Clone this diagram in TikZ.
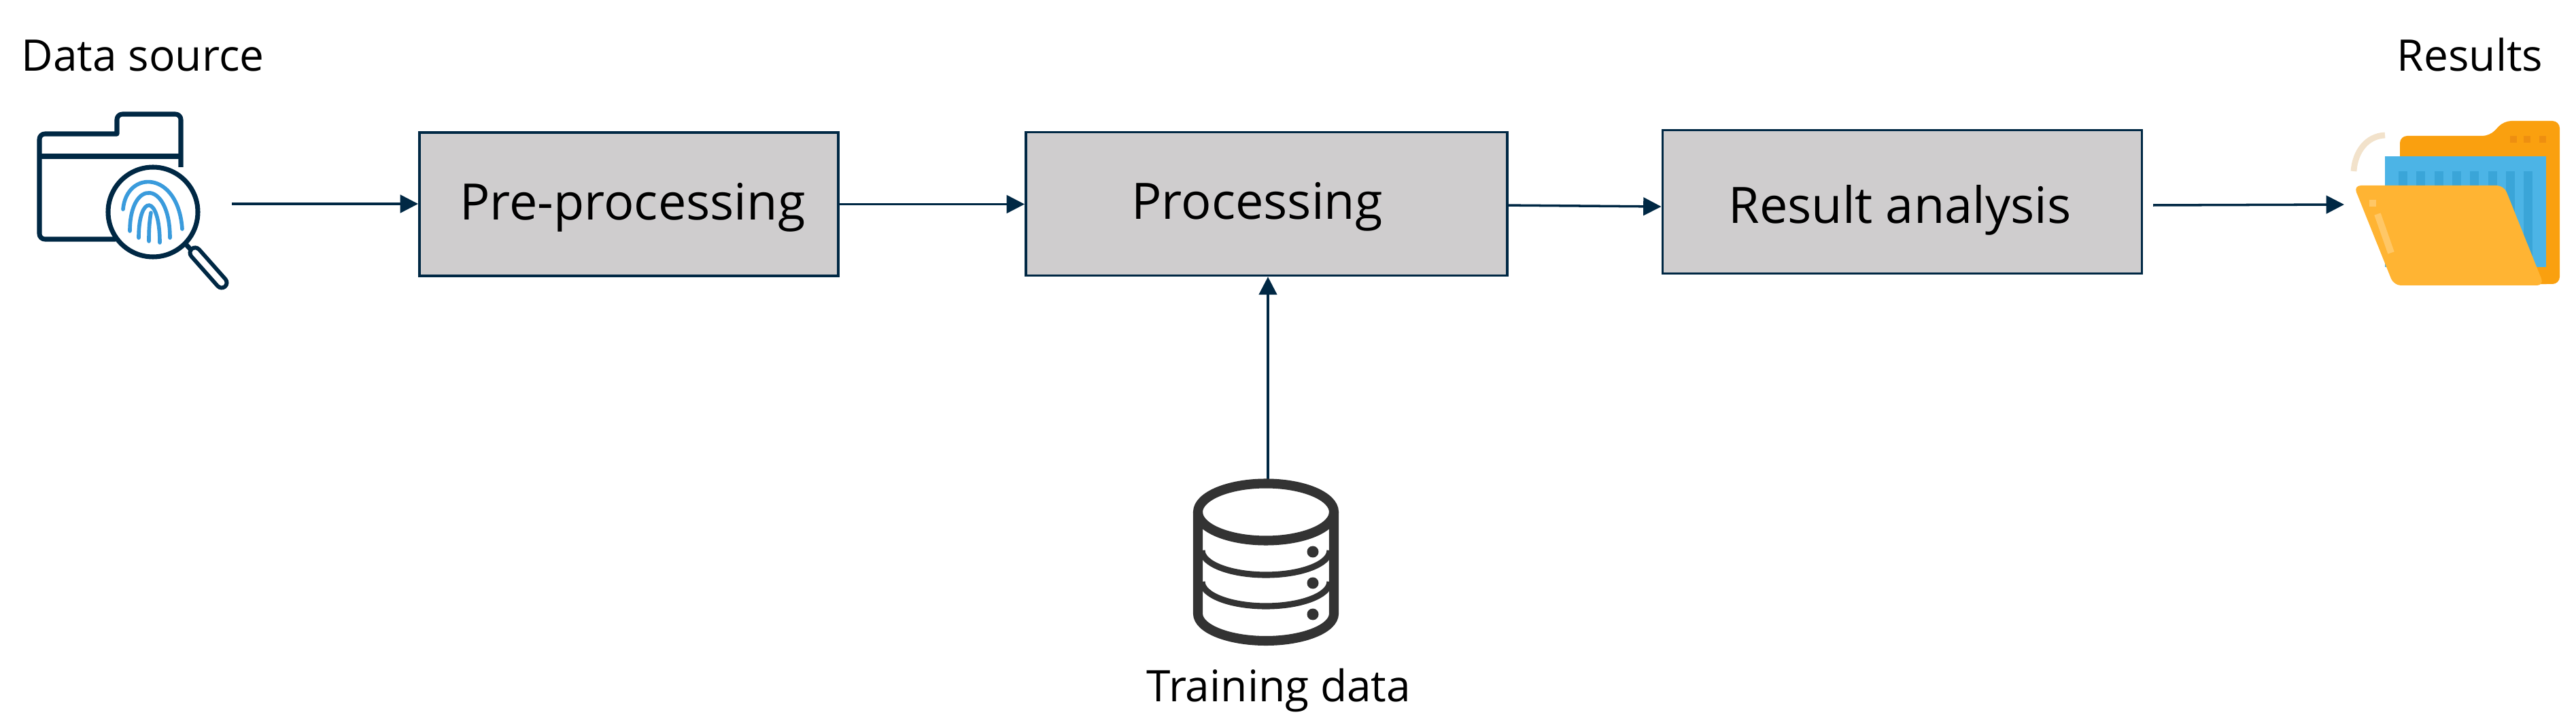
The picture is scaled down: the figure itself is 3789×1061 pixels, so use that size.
\documentclass[tikz,border=0pt]{standalone}
\usepackage{fontspec}
\setmainfont{Open Sans}
\usepackage{xcolor}
\usetikzlibrary{arrows.meta,positioning,calc}
\definecolor{linenavy}{RGB}{0, 40, 68}
\definecolor{boxgrey}{RGB}{207, 205, 206}
\definecolor{printblue}{RGB}{58, 155, 220}
\definecolor{dbgrey}{RGB}{51, 51, 51}
\definecolor{folderback}{RGB}{250, 160, 15}
\definecolor{folderfront}{RGB}{255, 180, 51}
\definecolor{folderlight}{RGB}{255, 199, 102}
\definecolor{folderdot}{RGB}{238, 143, 16}
\definecolor{sheetblue}{RGB}{76, 180, 230}
\definecolor{sheetdark}{RGB}{58, 165, 216}
\definecolor{arcbeige}{RGB}{242, 226, 203}
\tikzset{
    procbox/.style={draw=linenavy,fill=boxgrey,line width=1pt,minimum height=2.11cm,inner sep=0pt,font=\fontsize{21}{25}\selectfont},
    caption/.style={inner sep=0pt,font=\fontsize{18.2}{22}\selectfont},
    flowline/.style={draw=linenavy,line width=1pt,-{Triangle[length=7.5pt,width=7.5pt]}},
    iconline/.style={draw=linenavy,line width=2pt,line join=round},
    printline/.style={draw=printblue,line width=1.6pt,line cap=round},
    dbline/.style={draw=dbgrey,line width=4pt}
}
\begin{document}
\begin{tikzpicture}[x=0.01cm,y=-0.01cm]
    \useasboundingbox (0,0) rectangle (3789,1061);

    \node[procbox,minimum width=6.16cm] (preproc) at (925,300.5) {\hspace*{3pt}\smash{\raisebox{-6.4pt}{Pre-processing}}};
    \node[procbox,minimum width=7.08cm] (proc) at (1863,300) {\smash{\raisebox{-6.3pt}{Processing}}\hspace*{8pt}};
    \node[procbox,minimum width=7.05cm] (analysis) at (2798,297) {\smash{\raisebox{-9.1pt}{Result analysis}}\hspace*{2pt}};

    \node[caption,anchor=base west] (srclabel) at (31,105) {Data source};
    \node[caption,anchor=base east] (reslabel) at (3741,105) {Results};
    \node[caption,anchor=base] (trainlabel) at (1881,1032) {Training data};

    \coordinate (srcout) at (341,300);
    \coordinate (dbtop) at (1865,705);
    \coordinate (resout) at (3167,302);
    \coordinate (resin) at (3448,301);

    \draw[flowline] (srcout) -- (srcout -| preproc.west);
    \draw[flowline] (preproc.east) -- (preproc.east -| proc.west);
    \draw[flowline] ([yshift=-0.6pt]proc.east) -- ([yshift=-2pt]analysis.west);
    \draw[flowline] (resout) -- (resin);
    \draw[flowline] (dbtop) -- (dbtop |- proc.south);

    % data source icon
    \draw[iconline] (266,246) -- (266,176) arc[start angle=0,end angle=-90,radius=8] -- (180,168) arc[start angle=-90,end angle=-180,radius=8] -- (172,197) -- (66,197) arc[start angle=-90,end angle=-180,radius=8] -- (58,344) arc[start angle=180,end angle=90,radius=8] -- (170,352);
    \draw[iconline] (58,230) -- (266,230);
    \draw[iconline,fill=white] (225,312) circle (66);
    \draw[iconline] (272,358) -- (284,371);
    \draw[iconline,line width=6pt,line cap=round] (287,372) -- (326,416);
    \draw[white,line width=2.6pt,line cap=round] (287,372) -- (326,416);
    \draw[printline] (181,308) .. controls (186,250) and (262,250) .. (268,337);
    \draw[printline] (191,340) .. controls (191,262) and (250,265) .. (250,350);
    \draw[printline] (204,350) .. controls (204,285) and (235,285) .. (235,357);
    \draw[printline] (219,355) .. controls (219,335) and (220,325) .. (222,313);

    % training data icon
    \draw[dbline] (1762,753) -- (1762,903) arc[start angle=180,end angle=0,x radius=100,y radius=40] -- (1962,753);
    \draw[dbline] (1862,753.5) ellipse [x radius=100,y radius=42];
    \draw[dbgrey,line width=2.6pt] (1768,810) arc[start angle=180,end angle=0,x radius=94,y radius=36];
    \draw[dbgrey,line width=2.6pt] (1768,856) arc[start angle=180,end angle=0,x radius=94,y radius=36];
    \foreach \doty in {812,858,904}
        \fill[dbgrey] (1931,\doty) circle (8.5);

    % results icon
    \draw[arcbeige,line width=2.5pt] (3462,252) .. controls (3464,222) and (3482,200) .. (3508,199);
    \fill[folderback,rounded corners=3pt] (3530,420) -- (3530,200) -- (3662,200) -- (3683,178) -- (3765,178) -- (3765,418) -- (3738,418) -- cycle;
    \foreach \dotx in {3697,3717,3740}
        \fill[folderdot] (\dotx-5,200) rectangle (\dotx+5,210);
    \fill[sheetblue] (3508,230) rectangle (3745,393);
    \foreach \barx in {3534,3560,3587,3613,3639,3666,3692,3718}
        \fill[sheetdark] (\barx-6.5,252) rectangle (\barx+6.5,383);
    \fill[folderfront,rounded corners=3pt] (3462,273) -- (3683,273) -- (3742,420) -- (3521,420) -- cycle;
    \fill[folderlight] (3485,294) rectangle (3495,304);
    \draw[folderlight,line width=2.8pt] (3497,315) -- (3517,372);
\end{tikzpicture}
\end{document}
